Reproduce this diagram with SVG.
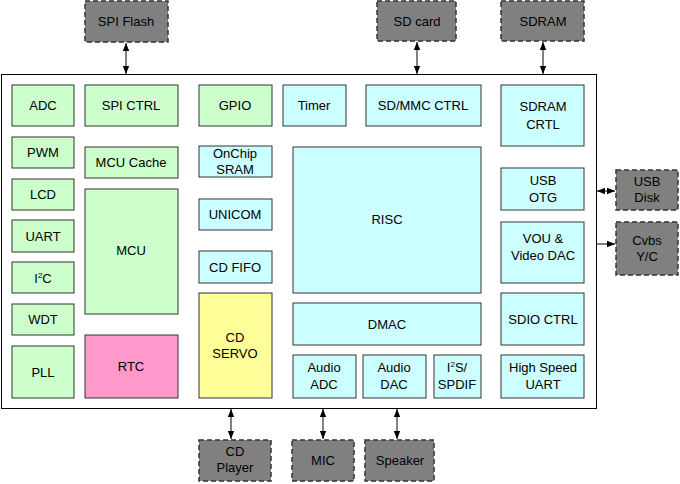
<svg xmlns="http://www.w3.org/2000/svg" width="680" height="484" viewBox="0 0 680 484">
<defs>
<style>
text{font-family:"Liberation Sans",Arial,sans-serif;font-size:13px;fill:#000;text-anchor:middle}
.b rect{stroke:#333;stroke-width:1}
.g{fill:#ccffcc}.c{fill:#ccffff}.p{fill:#ff99cc}.y{fill:#ffff99}
.x{fill:#808080;stroke:#333;stroke-width:1.5;stroke-dasharray:5,3}
#conn line{stroke:#000;stroke-width:1}
</style>
<marker id="a" viewBox="0 0 10 10" refX="10" refY="5" markerWidth="8" markerHeight="8" orient="auto-start-reverse"><path d="M0,1L10,5L0,9z" fill="#000"/></marker>
</defs>
<rect id="chip" x="1.5" y="74.5" width="595" height="334" fill="#fff" stroke="#000"/>
<g class="b">
<g id="adc"><rect class="g" x="12" y="85" width="62" height="41"/><text x="43" y="110">ADC</text></g>
<g id="spictrl"><rect class="g" x="85" y="85" width="93" height="41"/><text x="131" y="110">SPI CTRL</text></g>
<g id="gpio"><rect class="g" x="199" y="85" width="73" height="41"/><text x="235" y="110">GPIO</text></g>
<g id="timer"><rect class="c" x="283" y="85" width="63" height="41"/><text x="314" y="110">Timer</text></g>
<g id="sdmmc"><rect class="c" x="366" y="85" width="115" height="41"/><text x="423" y="110">SD/MMC CTRL</text></g>
<g id="sdramctrl"><rect class="c" x="501" y="85" width="83" height="61"/><text x="543" y="111">SDRAM</text><text x="543" y="129">CRTL</text></g>
<g id="pwm"><rect class="g" x="12" y="137" width="62" height="31"/><text x="43" y="157">PWM</text></g>
<g id="lcd"><rect class="g" x="12" y="179" width="62" height="31"/><text x="43" y="199">LCD</text></g>
<g id="uart"><rect class="g" x="12" y="220" width="62" height="32"/><text x="43" y="241">UART</text></g>
<g id="i2c"><rect class="g" x="12" y="262" width="62" height="31"/><text x="43" y="283">I<tspan dy="-5" font-size="8">2</tspan><tspan dy="5">C</tspan></text></g>
<g id="wdt"><rect class="g" x="12" y="304" width="62" height="31"/><text x="43" y="324">WDT</text></g>
<g id="pll"><rect class="g" x="12" y="346" width="62" height="52"/><text x="43" y="377">PLL</text></g>
<g id="mcucache"><rect class="g" x="85" y="147" width="93" height="31"/><text x="131" y="167">MCU Cache</text></g>
<g id="mcu"><rect class="g" x="85" y="189" width="93" height="125"/><text x="131" y="255">MCU</text></g>
<g id="rtc"><rect class="p" x="85" y="335" width="93" height="63"/><text x="131" y="371">RTC</text></g>
<g id="sram"><rect class="c" x="199" y="146" width="73" height="31"/><text x="235" y="158">OnChip</text><text x="235" y="174">SRAM</text></g>
<g id="unicom"><rect class="c" x="199" y="199" width="73" height="31"/><text x="235" y="219">UNICOM</text></g>
<g id="cdfifo"><rect class="c" x="199" y="251" width="73" height="32"/><text x="235" y="272">CD FIFO</text></g>
<g id="cdservo"><rect class="y" x="199" y="293" width="73" height="105"/><text x="235" y="342">CD</text><text x="235" y="358">SERVO</text></g>
<g id="risc"><rect class="c" x="293" y="147" width="188" height="146"/><text x="387" y="224">RISC</text></g>
<g id="dmac"><rect class="c" x="293" y="303" width="188" height="42"/><text x="387" y="329">DMAC</text></g>
<g id="aadc"><rect class="c" x="293" y="355" width="63" height="43"/><text x="324" y="372">Audio</text><text x="324" y="389">ADC</text></g>
<g id="adac"><rect class="c" x="363" y="355" width="63" height="43"/><text x="394" y="372">Audio</text><text x="394" y="389">DAC</text></g>
<g id="i2s"><rect class="c" x="434" y="355" width="47" height="43"/><text x="457" y="372">I<tspan dy="-5" font-size="8">2</tspan><tspan dy="5">S/</tspan></text><text x="457" y="389">SPDIF</text></g>
<g id="hsuart"><rect class="c" x="501" y="355" width="83" height="43"/><text x="543" y="372">High Speed</text><text x="543" y="389">UART</text></g>
<g id="usbotg"><rect class="c" x="501" y="168" width="83" height="42"/><text x="543" y="185">USB</text><text x="543" y="202">OTG</text></g>
<g id="vou"><rect class="c" x="501" y="222" width="83" height="61"/><text x="543" y="243">VOU &amp;</text><text x="543" y="260">Video DAC</text></g>
<g id="sdio"><rect class="c" x="501" y="293" width="83" height="52"/><text x="543" y="324">SDIO CTRL</text></g>
</g>
<g id="ext">
<g id="spiflash"><rect class="x" x="85" y="1" width="83" height="41"/><text x="126" y="26">SPI Flash</text></g>
<g id="sdcard"><rect class="x" x="377" y="1" width="79" height="40"/><text x="417" y="26">SD card</text></g>
<g id="sdram"><rect class="x" x="501" y="1" width="83" height="40"/><text x="543" y="26">SDRAM</text></g>
<g id="usbdisk"><rect class="x" x="616" y="170" width="62" height="40"/><text x="647" y="186">USB</text><text x="647" y="202">Disk</text></g>
<g id="cvbs"><rect class="x" x="616" y="222" width="62" height="53"/><text x="647" y="245">Cvbs</text><text x="647" y="261">Y/C</text></g>
<g id="cdplayer"><rect class="x" x="199" y="440" width="72" height="41"/><text x="235" y="456">CD</text><text x="235" y="472">Player</text></g>
<g id="mic"><rect class="x" x="292" y="440" width="62" height="41"/><text x="323" y="465">MIC</text></g>
<g id="speaker"><rect class="x" x="365" y="440" width="69" height="41"/><text x="400" y="465">Speaker</text></g>
</g>
<g id="conn">
<line x1="126" y1="43" x2="126" y2="74" marker-start="url(#a)" marker-end="url(#a)"/>
<line x1="417" y1="42" x2="417" y2="74" marker-start="url(#a)" marker-end="url(#a)"/>
<line x1="543" y1="42" x2="543" y2="74" marker-start="url(#a)" marker-end="url(#a)"/>
<line x1="597" y1="191" x2="615" y2="191" marker-start="url(#a)" marker-end="url(#a)"/>
<line x1="597" y1="244" x2="615" y2="244" marker-end="url(#a)"/>
<line x1="231" y1="409" x2="231" y2="439" marker-start="url(#a)" marker-end="url(#a)"/>
<line x1="323" y1="409" x2="323" y2="439" marker-start="url(#a)" marker-end="url(#a)"/>
<line x1="397" y1="409" x2="397" y2="439" marker-start="url(#a)" marker-end="url(#a)"/>
</g>
</svg>
